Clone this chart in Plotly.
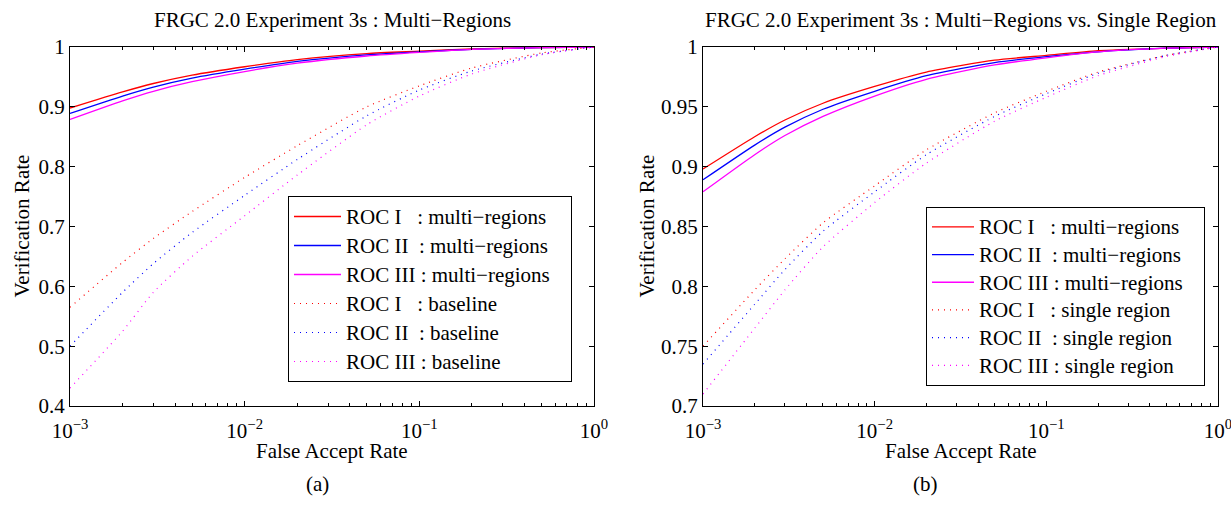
import plotly.graph_objects as go

# False accept rates at which the verification rates were sampled
far = [0.001, 0.002, 0.003, 0.005, 0.01, 0.02, 0.05, 0.1, 0.2, 0.5, 1.0]

# Multi-region fusion (same curves in both panels)
multi_roc1 = [0.898, 0.925, 0.939, 0.953, 0.967, 0.979, 0.989, 0.993, 0.997, 0.999, 1.0]
multi_roc2 = [0.889, 0.918, 0.933, 0.948, 0.963, 0.976, 0.987, 0.992, 0.996, 0.999, 1.0]
multi_roc3 = [0.879, 0.910, 0.926, 0.942, 0.959, 0.973, 0.985, 0.991, 0.996, 0.999, 1.0]

# FRGC baseline (panel a)
base_roc1 = [0.565, 0.640, 0.680, 0.725, 0.782, 0.835, 0.900, 0.935, 0.965, 0.990, 1.0]
base_roc2 = [0.500, 0.590, 0.638, 0.690, 0.752, 0.812, 0.885, 0.928, 0.960, 0.988, 1.0]
base_roc3 = [0.430, 0.525, 0.590, 0.650, 0.718, 0.786, 0.870, 0.918, 0.955, 0.987, 1.0]

# Single region (panel b)
single_roc1 = [0.750, 0.797, 0.823, 0.853, 0.884, 0.914, 0.945, 0.963, 0.979, 0.993, 1.0]
single_roc2 = [0.735, 0.785, 0.814, 0.846, 0.879, 0.910, 0.942, 0.961, 0.978, 0.993, 1.0]
single_roc3 = [0.710, 0.765, 0.797, 0.833, 0.870, 0.903, 0.938, 0.958, 0.976, 0.992, 1.0]

x_tickvals = [0.001, 0.01, 0.1, 1.0]
x_ticktext = ["10<sup>\u22123</sup>", "10<sup>\u22122</sup>", "10<sup>\u22121</sup>", "10<sup>0</sup>"]
x_minor = [m * 10.0 ** e for e in (-3, -2, -1) for m in range(2, 10)]

y_ticks_a = [0.4, 0.5, 0.6, 0.7, 0.8, 0.9, 1.0]
y_text_a = ["0.4", "0.5", "0.6", "0.7", "0.8", "0.9", "1"]
y_ticks_b = [0.7, 0.75, 0.8, 0.85, 0.9, 0.95, 1.0]
y_text_b = ["0.7", "0.75", "0.8", "0.85", "0.9", "0.95", "1"]

RED, BLUE, MAG = "#ff0000", "#0000ff", "#ff00ff"
FONT = "Liberation Serif"
NB = "\u00a0"

W, H = 1231, 523
# plot-area pixel boxes (left, right, top, bottom)
box_a = (70, 594, 47, 406)
box_b = (703, 1218, 47, 406)


def px(x):
    return x / W


def py(y):
    return 1 - y / H


def entry(label):
    # legend labels drawn a little larger than the row pitch font,
    # with some trailing room before the legend border
    return '<span style="font-size:21px">' + label + NB * 3 + "</span>"


fig = go.Figure()

solid = dict(width=1.3, shape="spline", smoothing=0.6)
dotted = dict(width=1.2, dash="1px,5px", shape="spline", smoothing=0.6)

panel_a = [
    (multi_roc1, RED, "solid", "ROC I" + NB * 3 + ": multi\u2212regions"),
    (multi_roc2, BLUE, "solid", "ROC II" + NB * 2 + ": multi\u2212regions"),
    (multi_roc3, MAG, "solid", "ROC III : multi\u2212regions"),
    (base_roc1, RED, "dot", "ROC I" + NB * 3 + ": baseline"),
    (base_roc2, BLUE, "dot", "ROC II" + NB * 2 + ": baseline"),
    (base_roc3, MAG, "dot", "ROC III : baseline"),
]
panel_b = [
    (multi_roc1, RED, "solid", "ROC I" + NB * 3 + ": multi\u2212regions"),
    (multi_roc2, BLUE, "solid", "ROC II" + NB * 2 + ": multi\u2212regions"),
    (multi_roc3, MAG, "solid", "ROC III : multi\u2212regions"),
    (single_roc1, RED, "dot", "ROC I" + NB * 3 + ": single region"),
    (single_roc2, BLUE, "dot", "ROC II" + NB * 2 + ": single region"),
    (single_roc3, MAG, "dot", "ROC III : single region"),
]

for i, (vals, col, style, name) in enumerate(panel_a):
    st = solid if style == "solid" else dotted
    fig.add_trace(go.Scatter(x=far, y=vals, mode="lines", name=entry(name),
                             line=dict(color=col, **st), xaxis="x", yaxis="y",
                             legend="legend", legendgroup=f"a{i}"))
for i, (vals, col, style, name) in enumerate(panel_b):
    st = solid if style == "solid" else dotted
    fig.add_trace(go.Scatter(x=far, y=vals, mode="lines", name=entry(name),
                             line=dict(color=col, **st), xaxis="x2", yaxis="y2",
                             legend="legend2", legendgroup=f"b{i}"))

axis_common = dict(
    showline=True, linecolor="black", linewidth=1, mirror="ticks",
    ticks="inside", ticklen=5, tickwidth=1, tickcolor="black",
    showgrid=False, zeroline=False, automargin=False,
    ticklabeloverflow="allow",
    tickfont=dict(family=FONT, size=21, color="black"),
)
xaxis_common = dict(
    axis_common, type="log", range=[-3, 0],
    tickmode="array", tickvals=x_tickvals, ticktext=x_ticktext,
    ticklabelstandoff=6,
    minor=dict(tickmode="array", tickvals=x_minor, ticks="inside",
               ticklen=3, tickcolor="black", tickwidth=1, showgrid=False),
)

fig.update_layout(
    width=W, height=H,
    margin=dict(l=0, r=0, t=0, b=0),
    paper_bgcolor="white", plot_bgcolor="white",
    font=dict(family=FONT, color="black"),
    xaxis=dict(xaxis_common, domain=[px(box_a[0]), px(box_a[1])], anchor="y"),
    yaxis=dict(axis_common, domain=[py(box_a[3]), py(box_a[2])], anchor="x",
               range=[0.4, 1.0], tickmode="array", tickvals=y_ticks_a, ticktext=y_text_a),
    xaxis2=dict(xaxis_common, domain=[px(box_b[0]), px(box_b[1])], anchor="y2"),
    yaxis2=dict(axis_common, domain=[py(box_b[3]), py(box_b[2])], anchor="x2",
                range=[0.7, 1.0], tickmode="array", tickvals=y_ticks_b, ticktext=y_text_b),
    legend=dict(x=px(288), y=py(196), xanchor="left", yanchor="top",
                bordercolor="black", borderwidth=1, bgcolor="white",
                font=dict(family=FONT, size=20, color="black"),
                tracegroupgap=0, itemwidth=47),
    legend2=dict(x=px(926), y=py(207), xanchor="left", yanchor="top",
                 bordercolor="black", borderwidth=1, bgcolor="white",
                 font=dict(family=FONT, size=19, color="black"),
                 tracegroupgap=0, itemwidth=42),
    showlegend=True,
)

texts = [
    ("FRGC 2.0 Experiment 3s : Multi\u2212Regions", (box_a[0] + box_a[1]) / 2, 20, 0, 21),
    ("FRGC 2.0 Experiment 3s : Multi\u2212Regions vs. Single Region", (box_b[0] + box_b[1]) / 2, 20, 0, 21),
    ("False Accept Rate", (box_a[0] + box_a[1]) / 2, 451, 0, 21),
    ("False Accept Rate", (box_b[0] + box_b[1]) / 2, 451, 0, 21),
    ("Verification Rate", 22, (box_a[2] + box_a[3]) / 2, -90, 21),
    ("Verification Rate", 647, (box_b[2] + box_b[3]) / 2, -90, 21),
    ("(a)", 317, 484, 0, 21),
    ("(b)", 925, 484, 0, 21),
]
for t, x, y, ang, sz in texts:
    fig.add_annotation(text=t, x=px(x), y=py(y), xref="paper", yref="paper",
                       xanchor="center", yanchor="middle", showarrow=False,
                       textangle=ang, font=dict(family=FONT, size=sz, color="black"))

fig.write_html("out.html")
